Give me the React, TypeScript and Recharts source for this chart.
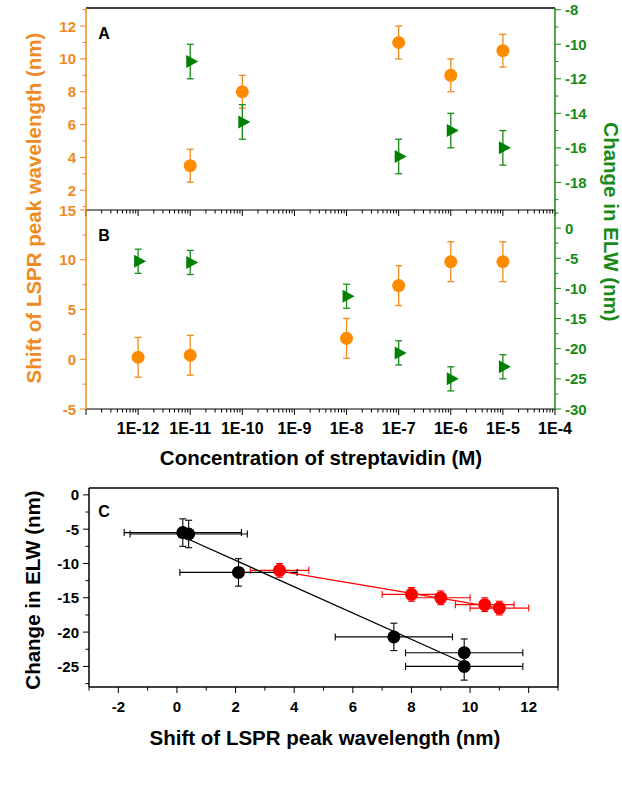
import React from "react";
import { ScatterChart, Scatter, XAxis, YAxis, ErrorBar, ReferenceLine } from "recharts";

const ORANGE = "#EE8A1E";
const ORANGE_MARK = "#FF8C00";
const GREEN = "#178A17";
const GREEN_MARK = "#008000";
const RED = "#FF0000";
const FONT = "'Liberation Sans', Arial, sans-serif";

// panel A: concentration (M), LSPR shift (nm), ELW change (nm)
const concA = [1e-11, 1e-10, 1e-7, 1e-6, 1e-5];
const lsprA = [3.5, 8, 11, 9, 10.5];
const lsprErrA = [1, 1, 1, 1, 1];
const elwA = [-11, -14.5, -16.5, -15, -16];
const elwErrA = [1, 1, 1, 1, 1];

// panel B
const concB = [1e-12, 1e-11, 1e-8, 1e-7, 1e-6, 1e-5];
const lsprB = [0.2, 0.4, 2.1, 7.4, 9.8, 9.8];
const lsprErrB = [2, 2, 2, 2, 2, 2];
const elwB = [-5.5, -5.7, -11.3, -20.7, -25, -23];
const elwErrB = [2, 2, 2, 2, 2, 2];

// panel C linear fits, end points
const fitBlackX = [0.2, 9.8];
const fitBlackY = [-6.1, -24.5];
const fitRedX = [3.5, 11];
const fitRedY = [-11.1, -16.5];

// ticks
const logMajor = [1e-13, 1e-12, 1e-11, 1e-10, 1e-9, 1e-8, 1e-7, 1e-6, 1e-5, 1e-4];
const logMinor = logMajor.slice(0, -1).flatMap((d) => [2, 3, 4, 5, 6, 7, 8, 9].map((k) => k * d));
const aLeftMajor = [2, 4, 6, 8, 10, 12];
const aLeftMinor = [1, 3, 5, 7, 9, 11, 13];
const aRightMajor = [-8, -10, -12, -14, -16, -18];
const aRightMinor = [-9, -11, -13, -15, -17, -19];
const bLeftMajor = [-5, 0, 5, 10, 15];
const bLeftMinor = [-2.5, 2.5, 7.5, 12.5];
const bRightMajor = [0, -5, -10, -15, -20, -25, -30];
const bRightMinor = [2.5, -2.5, -7.5, -12.5, -17.5, -22.5, -27.5];
const cXMajor = [-2, 0, 2, 4, 6, 8, 10, 12];
const cXMinor = [-3, -1, 1, 3, 5, 7, 9, 11, 13];
const cYMajor = [0, -5, -10, -15, -20, -25];
const cYMinor = [-2.5, -7.5, -12.5, -17.5, -22.5, -27.5];

const isDecade = (v: number) => Math.abs(Math.log10(v) - Math.round(Math.log10(v))) < 1e-6;
const decadeLabel = (v: number) => {
  const e = Math.round(Math.log10(v));
  return e < -12 ? "" : `1E${e}`;
};

type Side = "bottom" | "left" | "right";

const makeTick =
  (side: Side, isMajor: (v: number) => boolean, color: string, fmt?: (v: number) => string, fontSize = 15) =>
  (props: any) => {
    const { x, y, payload } = props;
    const v = payload.value;
    const major = isMajor(v);
    const len = major ? 6 : 3.5;
    const label = fmt && major ? fmt(v) : "";
    if (side === "bottom") {
      return (
        <g>
          <line x1={x} x2={x} y1={y} y2={y + len} stroke={color} strokeWidth={1} />
          {label && (
            <text x={x} y={y + 19} textAnchor="middle" dominantBaseline="central" fill={color}
              style={{ fontFamily: FONT, fontWeight: 700, fontSize }}>
              {label}
            </text>
          )}
        </g>
      );
    }
    const dir = side === "left" ? -1 : 1;
    return (
      <g>
        <line x1={x} x2={x + dir * len} y1={y} y2={y} stroke={color} strokeWidth={1} />
        {label && (
          <text x={x + dir * 10} y={y} textAnchor={side === "left" ? "end" : "start"} dominantBaseline="central"
            fill={color} style={{ fontFamily: FONT, fontWeight: 700, fontSize }}>
            {label}
          </text>
        )}
      </g>
    );
  };

const inList = (list: number[]) => (v: number) => list.some((m) => Math.abs(m - v) < 1e-9);
const num = (v: number) => `${v}`;

const circle = (color: string) => (p: any) => <circle cx={p.cx} cy={p.cy} r={6.5} fill={color} />;
const triangle = (p: any) => (
  <polygon points={`${p.cx - 4},${p.cy - 6.5} ${p.cx + 8},${p.cy} ${p.cx - 4},${p.cy + 6.5}`} fill={GREEN_MARK} />
);
const noDot = () => <g />;

const dataA1 = concA.map((c, i) => ({ x: c, y: lsprA[i], e: lsprErrA[i] }));
const dataA2 = concA.map((c, i) => ({ x: c, y: elwA[i], e: elwErrA[i] }));
const dataB1 = concB.map((c, i) => ({ x: c, y: lsprB[i], e: lsprErrB[i] }));
const dataB2 = concB.map((c, i) => ({ x: c, y: elwB[i], e: elwErrB[i] }));
const dataCBlack = lsprB.map((v, i) => ({ x: v, y: elwB[i], ex: lsprErrB[i], ey: elwErrB[i] }));
const dataCRed = lsprA.map((v, i) => ({ x: v, y: elwA[i], ex: lsprErrA[i], ey: elwErrA[i] }));
const fitBlack = fitBlackX.map((x, i) => ({ x, y: fitBlackY[i] }));
const fitRed = fitRedX.map((x, i) => ({ x, y: fitRedY[i] }));

const logDomain: [number, number] = [1e-13, 1e-4];
const logTicks = [...logMajor, ...logMinor].sort((a, b) => a - b);

const titleStyle = { fontFamily: FONT, fontWeight: 700, fontSize: 20.5 };

export default function App() {
  return (
    <div style={{ position: "absolute", left: 0, top: 0, width: 622, height: 788, background: "#fff" }}>
      {/* panel A */}
      <div style={{ position: "absolute", left: 0, top: 0 }}>
        <ScatterChart width={622} height={220} margin={{ top: 8, right: 0, bottom: 9, left: 0 }}>
          <XAxis type="number" dataKey="x" scale="log" domain={logDomain} allowDataOverflow ticks={logTicks}
            interval={0} height={1} tickSize={0} tickMargin={0} tickLine={false} axisLine={{ stroke: "#000" }}
            tick={makeTick("bottom", isDecade, "#000")} />
          <YAxis yAxisId="L" type="number" dataKey="y" domain={[0.8, 13.1]} allowDataOverflow
            ticks={[...aLeftMajor, ...aLeftMinor]} interval={0} width={86} tickSize={0} tickMargin={0}
            tickLine={false} axisLine={{ stroke: ORANGE, strokeWidth: 1.5 }}
            tick={makeTick("left", inList(aLeftMajor), ORANGE, num)} />
          <YAxis yAxisId="R" orientation="right" type="number" dataKey="y" domain={[-19.6, -7.9]} allowDataOverflow
            ticks={[...aRightMajor, ...aRightMinor]} interval={0} width={67} tickSize={0} tickMargin={0}
            tickLine={false} axisLine={{ stroke: GREEN, strokeWidth: 1.5 }}
            tick={makeTick("right", inList(aRightMajor), GREEN, num)} />
          <ReferenceLine yAxisId="L" y={13.1} stroke="#000" strokeWidth={1.5} />
          <Scatter yAxisId="L" data={dataA1} shape={circle(ORANGE_MARK)} isAnimationActive={false}>
            <ErrorBar dataKey="e" direction="y" width={3.5} stroke={ORANGE} strokeWidth={1.3} />
          </Scatter>
          <Scatter yAxisId="R" data={dataA2} shape={triangle} isAnimationActive={false}>
            <ErrorBar dataKey="e" direction="y" width={3.5} stroke={GREEN} strokeWidth={1.3} />
          </Scatter>
        </ScatterChart>
      </div>

      {/* panel B */}
      <div style={{ position: "absolute", left: 0, top: 200 }}>
        <ScatterChart width={622} height={280} margin={{ top: 10, right: 0, bottom: 0, left: 0 }}>
          <XAxis type="number" dataKey="x" scale="log" domain={logDomain} allowDataOverflow ticks={logTicks}
            interval={0} height={71} tickSize={0} tickMargin={0} tickLine={false} axisLine={{ stroke: "#000" }}
            tick={makeTick("bottom", isDecade, "#000", decadeLabel, 16)} />
          <YAxis yAxisId="L" type="number" dataKey="y" domain={[-5, 15]} allowDataOverflow
            ticks={[...bLeftMajor, ...bLeftMinor]} interval={0} width={86} tickSize={0} tickMargin={0}
            tickLine={false} axisLine={{ stroke: ORANGE, strokeWidth: 1.5 }}
            tick={makeTick("left", inList(bLeftMajor), ORANGE, num)} />
          <YAxis yAxisId="R" orientation="right" type="number" dataKey="y" domain={[-30, 3]} allowDataOverflow
            ticks={[...bRightMajor, ...bRightMinor]} interval={0} width={67} tickSize={0} tickMargin={0}
            tickLine={false} axisLine={{ stroke: GREEN, strokeWidth: 1.5 }}
            tick={makeTick("right", inList(bRightMajor), GREEN, num)} />
          <Scatter yAxisId="L" data={dataB1} shape={circle(ORANGE_MARK)} isAnimationActive={false}>
            <ErrorBar dataKey="e" direction="y" width={3.5} stroke={ORANGE} strokeWidth={1.3} />
          </Scatter>
          <Scatter yAxisId="R" data={dataB2} shape={triangle} isAnimationActive={false}>
            <ErrorBar dataKey="e" direction="y" width={3.5} stroke={GREEN} strokeWidth={1.3} />
          </Scatter>
        </ScatterChart>
      </div>

      {/* panel C */}
      <div style={{ position: "absolute", left: 0, top: 478 }}>
        <ScatterChart width={622} height={300} margin={{ top: 10, right: 64, bottom: 0, left: 0 }}>
          <XAxis type="number" dataKey="x" domain={[-3, 13]} allowDataOverflow ticks={[...cXMajor, ...cXMinor]}
            interval={0} height={91} tickSize={0} tickMargin={0} tickLine={false} axisLine={{ stroke: "#000", strokeWidth: 1.5 }}
            tick={makeTick("bottom", inList(cXMajor), "#000", num)} />
          <YAxis type="number" dataKey="y" domain={[-28, 1]} allowDataOverflow ticks={[...cYMajor, ...cYMinor]}
            interval={0} width={89} tickSize={0} tickMargin={0} tickLine={false} axisLine={{ stroke: "#000", strokeWidth: 1.5 }}
            tick={makeTick("left", inList(cYMajor), "#000", num)} />
          <ReferenceLine y={1} stroke="#000" strokeWidth={1.5} />
          <ReferenceLine x={13} stroke="#000" strokeWidth={1.5} />
          <Scatter data={fitBlack} line={{ stroke: "#000", strokeWidth: 1.3 }} shape={noDot} isAnimationActive={false} />
          <Scatter data={fitRed} line={{ stroke: RED, strokeWidth: 1.3 }} shape={noDot} isAnimationActive={false} />
          <Scatter data={dataCRed} shape={circle(RED)} isAnimationActive={false}>
            <ErrorBar dataKey="ex" direction="x" width={3.5} stroke={RED} strokeWidth={1.1} />
            <ErrorBar dataKey="ey" direction="y" width={3.5} stroke={RED} strokeWidth={1.1} />
          </Scatter>
          <Scatter data={dataCBlack} shape={circle("#000")} isAnimationActive={false}>
            <ErrorBar dataKey="ex" direction="x" width={3.5} stroke="#000" strokeWidth={1.1} />
            <ErrorBar dataKey="ey" direction="y" width={3.5} stroke="#000" strokeWidth={1.1} />
          </Scatter>
        </ScatterChart>
      </div>

      {/* titles and panel letters */}
      <svg width={622} height={788} style={{ position: "absolute", left: 0, top: 0, pointerEvents: "none" }}>
        <text x={33} y={208} transform="rotate(-90 33 208)" textAnchor="middle" dominantBaseline="central"
          fill={ORANGE} style={titleStyle}>Shift of LSPR peak wavelength (nm)</text>
        <text x={611} y={222} transform="rotate(90 611 222)" textAnchor="middle" dominantBaseline="central"
          fill={GREEN} style={titleStyle}>Change in ELW (nm)</text>
        <text x={321} y={457} textAnchor="middle" dominantBaseline="central" fill="#000" style={titleStyle}>
          Concentration of streptavidin (M)
        </text>
        <text x={32} y={590} transform="rotate(-90 32 590)" textAnchor="middle" dominantBaseline="central"
          fill="#000" style={titleStyle}>Change in ELW (nm)</text>
        <text x={325} y={737} textAnchor="middle" dominantBaseline="central" fill="#000" style={titleStyle}>
          Shift of LSPR peak wavelength (nm)
        </text>
        <text x={104} y={33} textAnchor="middle" dominantBaseline="central" fill="#000" style={{ ...titleStyle, fontSize: 16 }}>A</text>
        <text x={104} y={235} textAnchor="middle" dominantBaseline="central" fill="#000" style={{ ...titleStyle, fontSize: 16 }}>B</text>
        <text x={104} y={511} textAnchor="middle" dominantBaseline="central" fill="#000" style={{ ...titleStyle, fontSize: 16 }}>C</text>
      </svg>
    </div>
  );
}
